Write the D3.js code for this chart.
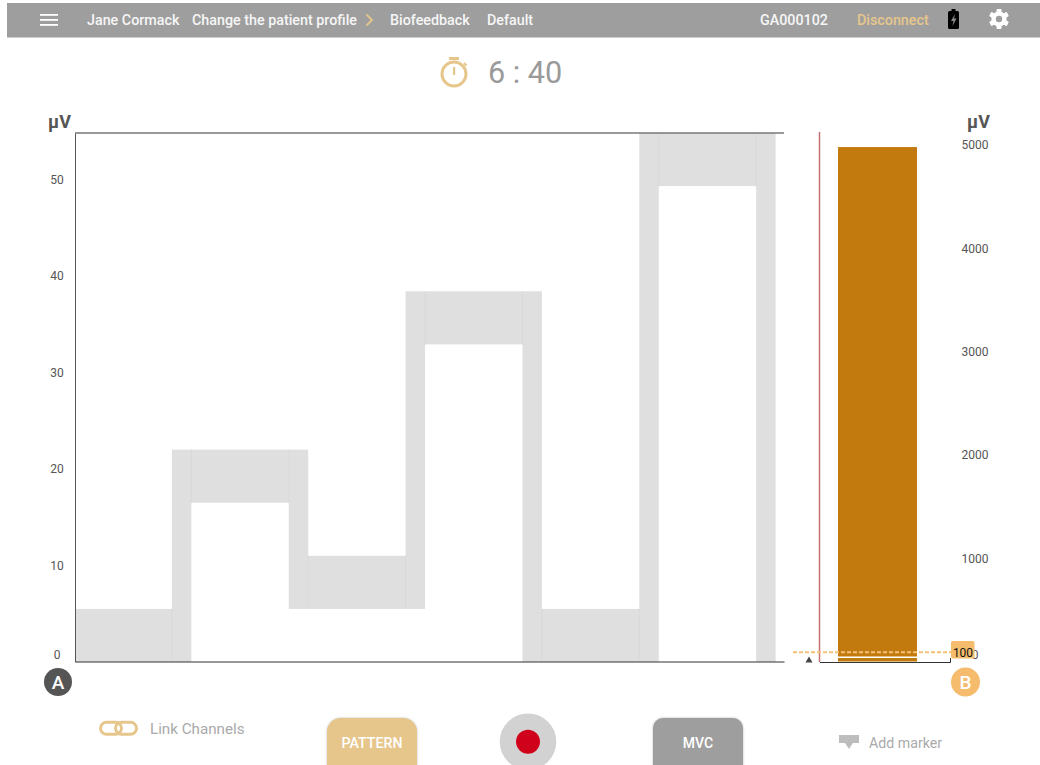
<!DOCTYPE html>
<html lang="en">

<head>
    <meta charset="UTF-8">
    <title>Biofeedback</title>
    <script src="https://cdn.jsdelivr.net/npm/d3@7"></script>
    <style>
        html, body { margin: 0; padding: 0; background: #fff; }
        svg { display: block; }
        text { font-family: Roboto, sans-serif; }
    </style>
</head>

<body>
    <div id="chart"></div>

    <script>
        // pattern blocks: seconds and µV
        const blockStart = [0.05, 5, 6, 11, 12, 17, 18, 23, 24, 29, 30, 35]
        const blockEnd = [5, 6, 11, 12, 17, 18, 23, 24, 29, 30, 35, 36]
        const blockLow = [0, 0, 16.5, 5.5, 5.5, 5.5, 32.9, 0, 0, 0, 49.3, 0]
        const blockHigh = [5.5, 22, 22, 22, 11, 38.4, 38.4, 38.4, 5.5, 54.8, 54.8, 54.8]
        const blockHold = [true, false, true, false, true, false, true, false, true, false, true, false]

        const leftTicks = [0, 10, 20, 30, 40, 50]
        const rightTicks = [0, 1000, 2000, 3000, 4000, 5000]
        const barValue = [4980]
        const barLevel = [42]
        const threshold = [100]

        const navLeft = ["Jane Cormack", "Change the patient profile", "Biofeedback", "Default"]
        const navLeftX = [87, 192, 390, 487]

        const width = 1040
        const height = 765
        const gold = "#e6c68b"
        const grey = "#9e9e9e"

        const svg = d3.select("#chart").append("svg").attr("width", width).attr("height", height)

        // scales
        const x = d3.scaleLinear().domain([0.05, 36.43]).range([75.5, 784])
        const y = d3.scaleLinear().domain([0, 54.8]).range([662, 133])
        const yRight = d3.scaleLinear().domain([0, 5000]).range([661.5, 145])

        // top bar
        svg.append("rect").attr("x", 7).attr("y", 3).attr("width", 1033).attr("height", 34).attr("fill", grey)
        svg.append("rect").attr("x", 7).attr("y", 37).attr("width", 1033).attr("height", 1).attr("fill", "#cfcfcf")
        svg.selectAll(".burger").data([14, 19, 24]).enter().append("rect").attr("class", "burger")
            .attr("x", 40).attr("y", d => d).attr("width", 18).attr("height", 1.8).attr("fill", "#fff")
        svg.selectAll(".nav").data(navLeft).enter().append("text").attr("class", "nav")
            .attr("x", (d, i) => navLeftX[i]).attr("y", 24.5)
            .attr("font-size", 14.3).attr("font-weight", 500).attr("fill", "#f6f6f6").text(d => d)
        svg.append("path").attr("d", "M366.5 14.5l5.5 5.5l-5.5 5.5").attr("fill", "none")
            .attr("stroke", gold).attr("stroke-width", 1.8)
        svg.append("text").attr("x", 760).attr("y", 24.5).attr("font-size", 14.3).attr("font-weight", 500)
            .attr("fill", "#f6f6f6").text("GA000102")
        svg.append("text").attr("x", 857).attr("y", 24.5).attr("font-size", 14.3).attr("font-weight", 500)
            .attr("fill", gold).text("Disconnect")

        // battery
        svg.append("rect").attr("x", 948).attr("y", 11).attr("width", 11).attr("height", 18).attr("rx", 1.5).attr("fill", "#000")
        svg.append("rect").attr("x", 951.5).attr("y", 9).attr("width", 4).attr("height", 3).attr("fill", "#000")
        svg.append("path").attr("d", "M955 14l-4 7h2.5l-1 5l4-7.5h-2.5z").attr("fill", "#8a8a8a")

        // gear
        const gear = svg.append("g").attr("transform", "translate(999,19)")
        gear.selectAll("rect").data(d3.range(6)).enter().append("rect")
            .attr("x", -2.3).attr("y", -10).attr("width", 4.6).attr("height", 20).attr("rx", 1)
            .attr("transform", d => `rotate(${d * 60})`).attr("fill", "#fff")
        gear.append("circle").attr("r", 7.6).attr("fill", "#fff")
        gear.append("circle").attr("r", 3.2).attr("fill", grey)

        // timer
        svg.append("circle").attr("cx", 454).attr("cy", 74).attr("r", 12).attr("fill", "none")
            .attr("stroke", gold).attr("stroke-width", 3)
        svg.append("rect").attr("x", 449).attr("y", 57).attr("width", 10).attr("height", 3).attr("fill", gold)
        svg.append("rect").attr("x", 453).attr("y", 67).attr("width", 2.2).attr("height", 8).attr("fill", gold)
        svg.append("path").attr("d", "M464 63l2.5 2.5").attr("stroke", gold).attr("stroke-width", 2.2)
        svg.append("text").attr("x", 488).attr("y", 83).attr("font-size", 30.6).attr("fill", "#9a9a9a").text("6 : 40")

        // pattern
        const blocks = blockStart.map((d, i) => i)
        svg.selectAll(".block").data(blocks).enter().append("rect").attr("class", "block")
            .attr("x", i => x(blockStart[i]))
            .attr("y", i => y(blockHigh[i]))
            .attr("width", i => x(blockEnd[i]) - x(blockStart[i]))
            .attr("height", i => y(blockLow[i]) - y(blockHigh[i]))
            .attr("fill", "#dfdfdf")
        svg.selectAll(".edge").data(blocks.filter(i => blockHold[i])).enter().append("path").attr("class", "edge")
            .attr("d", i => `M${x(blockStart[i])} ${y(blockLow[i])}V${y(blockHigh[i])}M${x(blockEnd[i])} ${y(blockLow[i])}V${y(blockHigh[i])}`)
            .attr("stroke", "#d8d8d8").attr("fill", "none")

        // left axis
        const axisLeft = svg.append("g").attr("transform", "translate(75,0)")
            .call(d3.axisLeft(y).tickValues(leftTicks).tickSize(0).tickPadding(13))
        axisLeft.select(".domain").attr("stroke", "#555")
        axisLeft.selectAll("text").attr("font-family", "Roboto, sans-serif").attr("font-size", 12)
            .attr("fill", "#555").attr("text-anchor", "middle").attr("x", -18)
            .attr("y", d => d === 0 ? -7 : 0)
        svg.append("g").attr("transform", "translate(0,661.5)")
            .call(d3.axisBottom(x).tickValues([]).tickSize(0))
            .select(".domain").attr("stroke", "#333")
        svg.append("path").attr("d", "M75 133H784").attr("stroke", "#777").attr("stroke-width", 1.4)
        svg.append("text").attr("x", 59.5).attr("y", 128).attr("text-anchor", "middle")
            .attr("font-size", 18).attr("font-weight", 700).attr("fill", "#555").text("µV")

        // right bar
        const barX = d3.scaleBand().domain(["B"]).range([838, 917])
        svg.selectAll(".bar").data(barValue).enter().append("rect").attr("class", "bar")
            .attr("x", barX("B")).attr("y", d => yRight(d))
            .attr("width", barX.bandwidth()).attr("height", d => yRight(0) - yRight(d))
            .attr("fill", "#c27a0e")
        svg.selectAll(".level").data(barLevel).enter().append("path").attr("class", "level")
            .attr("d", d => `M${barX("B")} ${yRight(d)}H${barX("B") + barX.bandwidth()}`)
            .attr("stroke", "#fff").attr("stroke-width", 1.5)

        // right axis
        const axisRight = svg.append("g").attr("transform", "translate(951,0)")
            .call(d3.axisRight(yRight).tickValues(rightTicks).tickFormat(d3.format("d")).tickSize(0).tickPadding(24))
        axisRight.select(".domain").remove()
        axisRight.selectAll("text").attr("font-family", "Roboto, sans-serif").attr("font-size", 12)
            .attr("fill", "#555").attr("text-anchor", "middle").attr("x", 24)
            .attr("y", d => d === 0 ? -7 : 0)
        svg.append("path").attr("d", "M820 662.5H950.5V658").attr("fill", "none").attr("stroke", "#333")
        svg.append("path").attr("d", "M819.5 132V662").attr("stroke", "#c87070").attr("stroke-width", 1.5)
        svg.append("path").attr("d", "M805.5 662.5l3.5-6l3.5 6z").attr("fill", "#444")
        svg.append("text").attr("x", 978.5).attr("y", 128).attr("text-anchor", "middle")
            .attr("font-size", 18).attr("font-weight", 700).attr("fill", "#555").text("µV")

        // threshold
        svg.selectAll(".thr").data(threshold).enter().append("path").attr("class", "thr")
            .attr("d", d => `M793 ${yRight(d) + 1}H951`)
            .attr("stroke", "#f4c07a").attr("stroke-width", 2).attr("stroke-dasharray", "4 2")
        svg.append("rect").attr("x", 951).attr("y", 641).attr("width", 23.5).attr("height", 17.5).attr("rx", 2).attr("fill", "#f4bc6c")
        svg.selectAll(".thrLabel").data(threshold).enter().append("text").attr("class", "thrLabel")
            .attr("x", 963).attr("y", 656.5).attr("text-anchor", "middle")
            .attr("font-size", 12).attr("fill", "#111").text(d => d)

        // badges
        svg.append("circle").attr("cx", 58).attr("cy", 682).attr("r", 14).attr("fill", "#555")
        svg.append("text").attr("x", 58).attr("y", 688.5).attr("text-anchor", "middle").attr("font-size", 19)
            .attr("font-weight", 500).attr("fill", "#fff").text("A")
        svg.append("circle").attr("cx", 965.5).attr("cy", 682).attr("r", 14.5).attr("fill", "#f4bc6c")
        svg.append("text").attr("x", 965.5).attr("y", 688.5).attr("text-anchor", "middle").attr("font-size", 19)
            .attr("font-weight", 500).attr("fill", "#fff").text("B")

        // link channels
        svg.selectAll(".link").data([100.5, 115.5]).enter().append("rect").attr("class", "link")
            .attr("x", d => d).attr("y", 722.2).attr("width", 21).attr("height", 12).attr("rx", 6)
            .attr("fill", "none").attr("stroke", gold).attr("stroke-width", 3)
        svg.append("text").attr("x", 150).attr("y", 734).attr("font-size", 15.2).attr("fill", "#aaa").text("Link Channels")

        // buttons
        svg.append("rect").attr("x", 327).attr("y", 718).attr("width", 90).attr("height", 60).attr("rx", 14).attr("fill", gold)
            .style("filter", "drop-shadow(0 0 1px #bbb)")
        svg.append("text").attr("x", 372).attr("y", 748).attr("text-anchor", "middle").attr("font-size", 14.2)
            .attr("font-weight", 500).attr("fill", "#fff").text("PATTERN")
        svg.append("circle").attr("cx", 528).attr("cy", 741.7).attr("r", 28.3).attr("fill", "#d2d2d2")
        svg.append("circle").attr("cx", 528).attr("cy", 741.7).attr("r", 12).attr("fill", "#d0021b")
        svg.append("rect").attr("x", 653).attr("y", 718).attr("width", 90).attr("height", 60).attr("rx", 10).attr("fill", grey)
            .style("filter", "drop-shadow(0 0 1px #bbb)")
        svg.append("text").attr("x", 698).attr("y", 748).attr("text-anchor", "middle").attr("font-size", 14)
            .attr("font-weight", 500).attr("fill", "#fff").text("MVC")

        // add marker
        svg.append("path").attr("d", "M839 735H859V743H853L849 749L845 743H839Z").attr("fill", "#bdbdbd")
        svg.append("text").attr("x", 869).attr("y", 748).attr("font-size", 14.2).attr("fill", "#aaa").text("Add marker")
    </script>
</body>

</html>
